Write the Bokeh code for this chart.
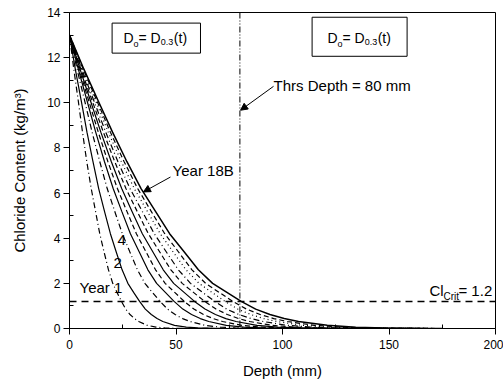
from bokeh.plotting import figure
from bokeh.models import Range1d, FixedTicker, Label, Arrow, NormalHead, BoxAnnotation, Span
from bokeh.embed import file_html
from bokeh.resources import INLINE

# ---- data ----
# chloride content levels (kg/m3) and depth (mm) at which each yearly profile reaches them
conc_levels = [13.0, 11.5, 10.1, 8.7, 7.4, 6.2, 5.2, 4.2, 3.4, 2.6, 2.0, 1.6, 1.2, 0.86, 0.62, 0.44, 0.31, 0.14, 0.06, 0.025, 0.005, 0.0]
depth_y1 = [0, 2.0, 4.1, 6.1, 8.1, 10.2, 12.2, 14.2, 16.2, 18.3, 20.3, 22.3, 24.4, 26.4, 28.4, 30.5, 32.5, 36.5, 40.6, 44.7, 50.8, 175]
depth_y2 = [0, 2.7, 5.5, 8.2, 11.0, 13.7, 16.4, 19.2, 21.9, 24.7, 27.4, 30.1, 32.9, 35.6, 38.4, 41.1, 43.8, 49.3, 54.8, 60.3, 68.5, 175]
depth_y4 = [0, 3.5, 7.1, 10.6, 14.2, 17.7, 21.2, 24.8, 28.3, 31.9, 35.4, 38.9, 42.5, 46.0, 49.6, 53.1, 56.6, 63.7, 70.8, 77.9, 88.5, 175]
depth_y6 = [0, 4.1, 8.2, 12.3, 16.4, 20.5, 24.5, 28.6, 32.7, 36.8, 40.9, 45.0, 49.1, 53.2, 57.3, 61.4, 65.4, 73.6, 81.8, 90.0, 102.3, 175]
depth_y8 = [0, 4.5, 9.0, 13.5, 18.0, 22.5, 26.9, 31.4, 35.9, 40.4, 44.9, 49.4, 53.9, 58.4, 62.9, 67.4, 71.8, 80.8, 89.8, 98.8, 112.3, 175]
depth_y10 = [0, 4.9, 9.8, 14.7, 19.6, 24.5, 29.3, 34.2, 39.1, 44.0, 48.9, 53.8, 58.7, 63.6, 68.5, 73.4, 78.2, 88.0, 97.8, 107.6, 122.3, 175]
depth_y12 = [0, 5.3, 10.6, 15.9, 21.2, 26.5, 31.7, 37.0, 42.3, 47.6, 52.9, 58.2, 63.5, 68.8, 74.1, 79.4, 84.6, 95.2, 105.8, 116.4, 132.3, 175]
depth_y14 = [0, 5.7, 11.4, 17.0, 22.7, 28.4, 34.1, 39.8, 45.4, 51.1, 56.8, 62.5, 68.2, 73.8, 79.5, 85.2, 90.9, 102.2, 113.6, 125.0, 142.0, 175]
depth_y16 = [0, 6.1, 12.2, 18.2, 24.3, 30.4, 36.5, 42.6, 48.6, 54.7, 60.8, 66.9, 73.0, 79.0, 85.1, 91.2, 97.3, 109.4, 121.6, 133.8, 152.0, 175]
depth_y18 = [0, 6.4, 12.8, 19.2, 25.6, 32.0, 38.3, 44.7, 51.1, 57.5, 63.9, 70.3, 76.7, 83.1, 89.5, 95.9, 102.2, 115.0, 127.8, 140.6, 159.8, 175]
depth_y18b = [0, 6.7, 13.4, 20.2, 26.9, 33.6, 40.3, 47.0, 53.8, 60.5, 67.2, 73.9, 80.6, 87.4, 94.1, 100.8, 107.5, 121.0, 134.4, 147.8, 168.0, 175]

series_names = ["Year 1", "Year 2", "Year 4", "Year 6", "Year 8", "Year 10",
                "Year 12", "Year 14", "Year 16", "Year 18", "Year 18B"]
series_depths = [depth_y1, depth_y2, depth_y4, depth_y6, depth_y8, depth_y10,
                 depth_y12, depth_y14, depth_y16, depth_y18, depth_y18b]
series_dash = ["6 3 1 3", "solid", "6 3 1 3", "solid", "5 3", "solid",
               "5 3", "6 3 1 3", "1 3", "5 3", "solid"]

cl_crit = 1.2
thrs_depth = 80

x_ticks = [0, 50, 100, 150, 200]
x_minor = [25, 75, 125, 175]
y_ticks = [0, 2, 4, 6, 8, 10, 12, 14]
y_minor = [1, 3, 5, 7, 9, 11, 13]

FONT = "Liberation Sans"

p = figure(width=503, height=381, output_backend="svg", toolbar_location=None,
           x_range=Range1d(0, 200), y_range=Range1d(0, 14),
           min_border_left=69, min_border_right=8, min_border_top=12, min_border_bottom=52)
p.background_fill_color = "white"
p.border_fill_color = "white"
p.outline_line_color = "black"
p.outline_line_width = 1
p.grid.visible = False

for ax, ticks, minor in ((p.xaxis[0], x_ticks, x_minor), (p.yaxis[0], y_ticks, y_minor)):
    ax.ticker = FixedTicker(ticks=ticks, minor_ticks=minor)
    ax.major_tick_out = 6
    ax.major_tick_in = 0
    ax.minor_tick_out = 0
    ax.minor_tick_in = 4
    ax.axis_line_color = "black"
    ax.major_tick_line_color = "black"
    ax.minor_tick_line_color = "black"
    ax.major_label_text_font = FONT
    ax.major_label_text_font_size = "12px"
    ax.major_label_text_color = "black"
    ax.axis_label_text_font = FONT
    ax.axis_label_text_font_size = "15px"
    ax.axis_label_text_font_style = "normal"
    ax.axis_label_text_color = "black"

p.xaxis[0].axis_label = "Depth (mm)"
p.xaxis[0].major_label_standoff = 5
p.xaxis[0].axis_label_standoff = 10
p.yaxis[0].axis_label = "Chloride Content (kg/m³)"
p.yaxis[0].major_label_standoff = 3
p.yaxis[0].axis_label_standoff = 16

# curves
for name, depths, dash in zip(series_names, series_depths, series_dash):
    lw = 1.5 if name == "Year 18B" else 1.2
    p.line(depths, conc_levels, line_color="black", line_width=lw, line_dash=dash)

# threshold lines
p.add_layout(Span(location=cl_crit, dimension="width", line_color="black",
                  line_width=1.5, line_dash="7 5"))
p.add_layout(Span(location=thrs_depth, dimension="height", line_color="black",
                  line_width=1, line_dash="6 2 1 2 1 2"))

# boxes
p.add_layout(BoxAnnotation(left=20.0, right=61.5, bottom=12.2, top=13.53,
                           fill_color="white", fill_alpha=1, line_color="black",
                           line_width=1, line_alpha=1))
p.add_layout(BoxAnnotation(left=113.9, right=158.5, bottom=12.06, top=13.79,
                           fill_color="white", fill_alpha=1, line_color="black",
                           line_width=1, line_alpha=1))


def lab(x, y, text, size="15px"):
    p.add_layout(Label(x=x, y=y, text=text, text_font=FONT, text_font_size=size,
                       text_color="black", text_baseline="alphabetic", text_align="left"))


# box texts D_o = D_0.3(t)
for xs in ([25.4, 30.0, 32.4, 38.0, 42.8, 49.0], [121.1, 125.8, 128.2, 133.8, 138.6, 144.7]):
    lab(xs[0], 12.85, "D", "14px")
    lab(xs[1], 12.6, "o", "9px")
    lab(xs[2], 12.85, "=", "14px")
    lab(xs[3], 12.85, "D", "14px")
    lab(xs[4], 12.68, "0.3", "9px")
    lab(xs[5], 12.85, "(t)", "14px")

lab(95.8, 10.78, "Thrs Depth = 80 mm")
lab(48.4, 7.02, "Year 18B")
lab(4.7, 1.81, "Year 1")
lab(22.5, 3.93, "4")
lab(20.7, 2.92, "2")
lab(169.0, 1.68, "Cl")
lab(175.6, 1.42, "Crit", "10px")
lab(182.6, 1.68, "= 1.2")

p.add_layout(Arrow(end=NormalHead(size=7, fill_color="black", line_color="black"),
                   x_start=47.4, y_start=6.71, x_end=34.7, y_end=6.05,
                   line_color="black", line_width=1))
p.add_layout(Arrow(end=NormalHead(size=7, fill_color="black", line_color="black"),
                   x_start=95.8, y_start=10.73, x_end=80.3, y_end=9.67,
                   line_color="black", line_width=1))

open("out.html", "w").write(file_html(p, INLINE))
